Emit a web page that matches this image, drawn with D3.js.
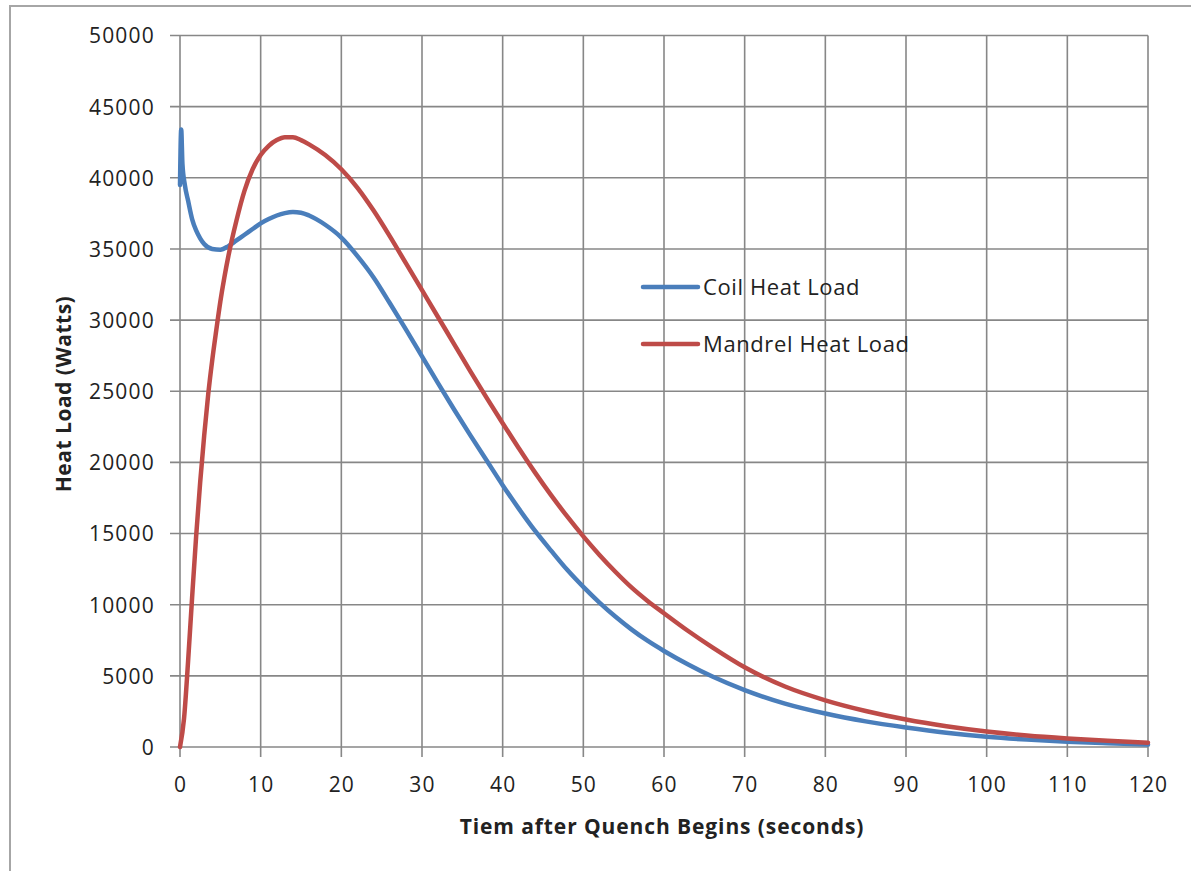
<!DOCTYPE html>
<html>
<head>
<meta charset="utf-8">
<script src="https://cdn.jsdelivr.net/npm/d3@7"></script>
<style>
  html, body { margin: 0; padding: 0; background: #fff; }
  svg { display: block; }
  text { font-family: "Open Sans", sans-serif; fill: #222; }
</style>
</head>
<body>
<svg id="chart" width="1191" height="871"></svg>
<script>
// ---- data ----
const coilTime = [0, 0.15, 0.3, 0.6, 1, 1.5, 2, 2.5, 3, 4, 5, 6, 7, 8, 9, 10, 11, 12, 13, 14, 15, 16, 18, 20, 22, 24, 26, 28, 30, 32, 34, 36, 38, 40, 42, 44, 46, 48, 50, 52, 54, 56, 58, 60, 63, 66, 70, 75, 80, 85, 90, 95, 100, 105, 110, 115, 120];
const coilLoad = [39500, 43400, 41000, 39500, 38400, 37100, 36300, 35750, 35350, 35000, 34950, 35200, 35600, 36000, 36400, 36800, 37100, 37350, 37520, 37600, 37550, 37350, 36700, 35800, 34500, 33000, 31200, 29350, 27450, 25550, 23700, 21900, 20150, 18400, 16750, 15200, 13800, 12450, 11250, 10150, 9150, 8250, 7450, 6750, 5800, 4950, 4000, 3050, 2350, 1800, 1370, 1000, 720, 520, 370, 260, 170];
const mandrelTime = [0, 0.5, 1, 1.5, 2, 2.5, 3, 3.5, 4, 4.5, 5, 5.5, 6, 7, 8, 9, 10, 11, 12, 13, 14, 15, 16, 18, 20, 22, 24, 26, 28, 30, 32, 34, 36, 38, 40, 42, 44, 46, 48, 50, 52, 54, 56, 58, 60, 63, 66, 70, 75, 80, 85, 90, 95, 100, 105, 110, 115, 120];
const mandrelLoad = [0, 2000, 6000, 10500, 14800, 18600, 21900, 24800, 27200, 29300, 31300, 33000, 34500, 37000, 39100, 40600, 41600, 42250, 42650, 42850, 42850, 42650, 42350, 41600, 40600, 39300, 37700, 35900, 34000, 32100, 30200, 28300, 26400, 24550, 22750, 21000, 19300, 17700, 16200, 14800, 13500, 12300, 11200, 10250, 9400, 8150, 7000, 5600, 4250, 3280, 2530, 1930, 1460, 1090, 810, 605, 440, 300];
const seriesNames = ["Coil Heat Load", "Mandrel Heat Load"];
const seriesColors = ["#4A7EBB", "#BE4B48"];
const xTicks = [0, 10, 20, 30, 40, 50, 60, 70, 80, 90, 100, 110, 120];
const yTicks = [0, 5000, 10000, 15000, 20000, 25000, 30000, 35000, 40000, 45000, 50000];
const xTitle = "Tiem after Quench Begins (seconds)";
const yTitle = "Heat Load (Watts)";

// ---- layout ----
const svg = d3.select("#chart");
const L = 180, R = 1148, T = 35.5, B = 747;
const x = d3.scaleLinear().domain([0, 120]).range([L, R]);
const y = d3.scaleLinear().domain([0, 50000]).range([B, T]);

// outer frame (only top & left visible)
svg.append("line").attr("x1", 9.5).attr("x2", 1191).attr("y1", 6).attr("y2", 6)
  .attr("stroke", "#a6a6a6").attr("stroke-width", 2);
svg.append("line").attr("x1", 10).attr("x2", 10).attr("y1", 5).attr("y2", 871)
  .attr("stroke", "#a6a6a6").attr("stroke-width", 2);

const gridColor = "#878787";
// grid
const g = svg.append("g");
g.selectAll(".vg").data(xTicks).join("line")
  .attr("x1", d => x(d)).attr("x2", d => x(d))
  .attr("y1", T).attr("y2", B + 10)
  .attr("stroke", gridColor).attr("stroke-width", 1.6);
g.selectAll(".hg").data(yTicks).join("line")
  .attr("x1", L - 10).attr("x2", R)
  .attr("y1", d => y(d)).attr("y2", d => y(d))
  .attr("stroke", gridColor).attr("stroke-width", 1.6);

// axes labels via d3 axes
const xAxis = d3.axisBottom(x).tickValues(xTicks).tickSize(0).tickPadding(0).tickFormat(d3.format("d"));
const yAxis = d3.axisLeft(y).tickValues(yTicks).tickSize(0).tickPadding(0).tickFormat(d3.format("d"));
const gx = svg.append("g").attr("transform", `translate(0,${B})`).call(xAxis);
gx.select(".domain").remove();
gx.selectAll("text").attr("dy", null).attr("y", 45)
  .style("font-size", "21px").style("letter-spacing", "1.2px").attr("fill", "#222");
const gy = svg.append("g").attr("transform", `translate(${L - 25},0)`).call(yAxis);
gy.select(".domain").remove();
gy.selectAll("text").attr("dy", "0.35em").attr("x", 0)
  .style("font-size", "21px").style("letter-spacing", "1.2px").attr("fill", "#222");

// titles
svg.append("text").attr("x", 662).attr("y", 834).attr("text-anchor", "middle")
  .style("font-size", "21px").style("letter-spacing", "0.9px").style("font-weight", "bold").text(xTitle);
svg.append("text").attr("transform", "translate(71,394) rotate(-90)").attr("text-anchor", "middle")
  .style("font-size", "21px").style("letter-spacing", "0.5px").style("font-weight", "bold").text(yTitle);

// lines
const line = d3.line().x(d => x(d[0])).y(d => y(d[1])).curve(d3.curveMonotoneX);
const coil = d3.zip(coilTime, coilLoad);
const mandrel = d3.zip(mandrelTime, mandrelLoad);
svg.append("path").datum(coil).attr("d", line).attr("fill", "none")
  .attr("stroke", seriesColors[0]).attr("stroke-width", 4.5).attr("stroke-linejoin", "round").attr("stroke-linecap", "round");
svg.append("path").datum(mandrel).attr("d", line).attr("fill", "none")
  .attr("stroke", seriesColors[1]).attr("stroke-width", 4.5).attr("stroke-linejoin", "round").attr("stroke-linecap", "round");

// legend
const leg = svg.append("g");
seriesNames.forEach((name, i) => {
  const yy = 287 + i * 57;
  leg.append("line").attr("x1", 643).attr("x2", 698).attr("y1", yy).attr("y2", yy)
    .attr("stroke", seriesColors[i]).attr("stroke-width", 4.5).attr("stroke-linecap", "round");
  leg.append("text").attr("x", 703).attr("y", yy).attr("dy", "0.35em")
    .style("font-size", "22px").style("letter-spacing", "0.6px").text(name);
});
</script>
</body>
</html>
